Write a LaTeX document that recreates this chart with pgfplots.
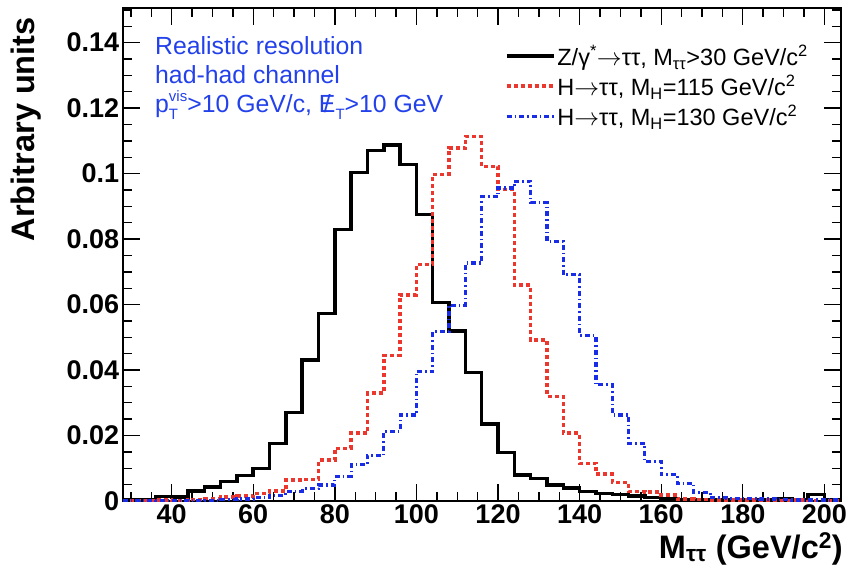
\documentclass[border=0pt]{standalone}
\usepackage{fontspec}
\setmainfont{Liberation Sans}
\usepackage{pgfplots}
\pgfplotsset{compat=1.18}
\definecolor{hred}{RGB}{235,55,45}
\definecolor{hblue}{RGB}{25,45,230}
\definecolor{tblue}{RGB}{35,65,235}
\newcommand{\txtfont}{\fontsize{24.8}{28}\selectfont}
\newcommand{\lgfont}{\fontsize{23.5}{28}\selectfont}
\newcommand{\arr}{\ensuremath{\rightarrow}}
\begin{document}
\begin{tikzpicture}
\path[use as bounding box] (-122.7pt,-75pt) rectangle (728.3pt,501pt);
\begin{axis}[
  at={(0pt,0pt)}, anchor=south west,
  scale only axis, width=718pt, height=492.7pt,
  xmin=28, xmax=204, ymin=0, ymax=0.1505,
  xtick={40,60,...,200}, minor xtick={30,35,...,200},
  ytick={0,0.02,0.04,0.06,0.08,0.1,0.12,0.14},
  minor ytick={0.005,0.01,0.015,0.025,0.03,0.035,0.045,0.05,0.055,0.065,0.07,0.075,0.085,0.09,0.095,0.105,0.11,0.115,0.125,0.13,0.135,0.145,0.15},
  scaled y ticks=false,
  yticklabel style={/pgf/number format/fixed, /pgf/number format/precision=2},
  /pgf/number format/assume math mode=true,
  tick label style={font=\fontsize{27}{27}\selectfont\bfseries},
  tick align=inside, tick pos=both,
  major tick length=17pt, minor tick length=9pt,
  every tick/.style={black, line width=1.4pt},
  axis line style={line width=2pt},
  legend cell align=left,
  legend style={at={(rel axis cs:0.532,0.9296)}, anchor=north west, draw=none, fill=none,
    font=\lgfont, row sep=4pt, inner sep=0pt},
  legend image code/.code={\draw[#1] (0pt,0pt) -- (47pt,0pt);},
]
\addplot[const plot mark left, black, line width=3.5pt] coordinates {
(28,0.0005) (32,0.0005) (36,0.0013) (40,0.0012) (44,0.0031) (48,0.0043) (52,0.0060) (56,0.0078)
(60,0.0100) (64,0.0176) (68,0.0270) (72,0.0430) (76,0.0572) (80,0.0830) (84,0.1003) (88,0.1070)
(92,0.1088) (96,0.1028) (100,0.0875) (104,0.0607) (108,0.0520) (112,0.0392) (116,0.0235) (120,0.0148)
(124,0.0080) (128,0.0069) (132,0.0049) (136,0.0039) (140,0.0029) (144,0.0023) (148,0.0020) (152,0.0016)
(156,0.0010) (160,0.0008) (164,0.0004) (168,0.0004) (172,0.0003) (176,0.0003) (180,0.0004) (184,0.0003)
(188,0.0008) (192,0.0003) (196,0.0020) (200,0.0003) (204,0.0003)};
\addlegendentry{Z/γ\textsuperscript{*}\arr ττ, M\textsubscript{ττ}>30 GeV/c\textsuperscript{2}}
\addplot[const plot mark left, hred, line width=3.5pt, dash pattern=on 4pt off 3pt] coordinates {
(28,0.0002) (32,0.0002) (36,0.0003) (40,0.0002) (44,0.0005) (48,0.0008) (52,0.0012) (56,0.0015)
(60,0.0023) (64,0.0030) (68,0.0064) (72,0.0066) (76,0.0125) (80,0.0160) (84,0.0207) (88,0.0330)
(92,0.0444) (96,0.0630) (100,0.0723) (104,0.0997) (108,0.1078) (112,0.1114) (116,0.1022) (120,0.0951)
(124,0.0660) (128,0.0492) (132,0.0319) (136,0.0207) (140,0.0115) (144,0.0082) (148,0.0057) (152,0.0029)
(156,0.0027) (160,0.0018) (164,0.0006) (168,0.0005) (172,0.0003) (176,0.0003) (180,0.0003) (184,0.0003)
(188,0.0002) (192,0.0003) (196,0.0002) (200,0.0002) (204,0.0002)};
\addlegendentry{H\arr ττ, M\textsubscript{H}=115 GeV/c\textsuperscript{2}}
\addplot[const plot mark left, hblue, line width=3.2pt, dash pattern=on 5pt off 3pt on 1.5pt off 3pt] coordinates {
(28,0.0001) (32,0.0002) (36,0.0001) (40,0.0002) (44,0.0001) (48,0.0002) (52,0.0004) (56,0.0006)
(60,0.0010) (64,0.0018) (68,0.0030) (72,0.0037) (76,0.0049) (80,0.0074) (84,0.0112) (88,0.0140)
(92,0.0212) (96,0.0263) (100,0.0396) (104,0.0518) (108,0.0598) (112,0.0727) (116,0.0929) (120,0.0956)
(124,0.0977) (128,0.0912) (132,0.0793) (136,0.0691) (140,0.0505) (144,0.0355) (148,0.0263) (152,0.0176)
(156,0.0120) (160,0.0080) (164,0.0054) (168,0.0025) (172,0.0010) (176,0.0008) (180,0.0008) (184,0.0006)
(188,0.0004) (192,0.0003) (196,0.0003) (200,0.0003) (204,0.0003)};
\addlegendentry{H\arr ττ, M\textsubscript{H}=130 GeV/c\textsuperscript{2}}
\end{axis}
\begin{scope}[every node/.style={inner sep=0pt}]
\node[anchor=base west, text=tblue, font=\txtfont] at (32.3pt,446pt) {Realistic resolution};
\node[anchor=base west, text=tblue, font=\txtfont] at (32.3pt,417pt) {had-had channel};
\node[anchor=base west, text=tblue, font=\txtfont] at (32.3pt,388pt) {p\rlap{\raisebox{-0.25em}{\fontsize{15}{15}\selectfont T}}\raisebox{0.46em}{\fontsize{15}{15}\selectfont vis}>10 GeV/c, {\ooalign{E\cr\hfil/\hfil}}\raisebox{-0.25em}{\fontsize{15}{15}\selectfont T}>10 GeV};
\node[rotate=90, anchor=base east, font=\fontsize{32.5}{32.5}\selectfont\bfseries] at (-87.7pt,484pt) {Arbitrary units};
\node[anchor=base east, font=\fontsize{32.5}{32.5}\selectfont\bfseries] at (720.3pt,-57pt) {M\textsubscript{ττ} (GeV/c\textsuperscript{2})};
\end{scope}
\end{tikzpicture}
\end{document}
